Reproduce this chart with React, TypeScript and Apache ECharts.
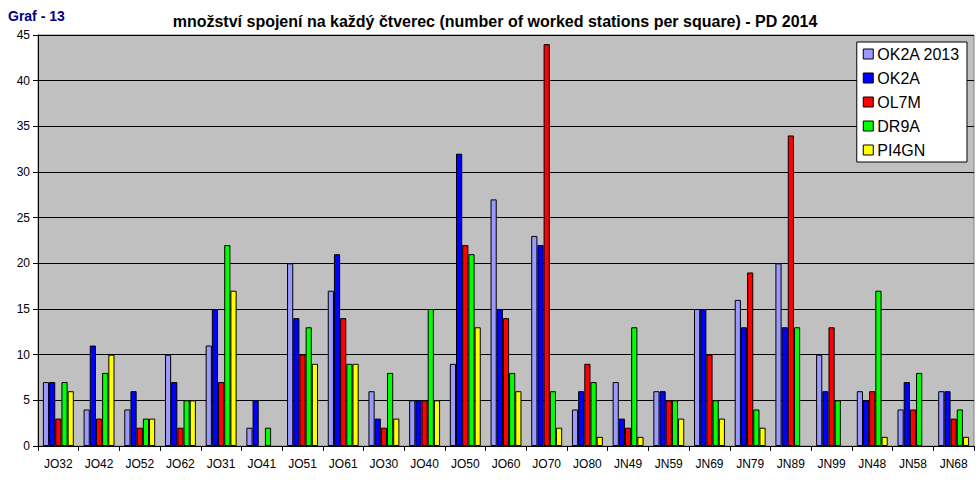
import React, { useEffect, useRef } from "react";
import * as echarts from "echarts";

const categories = ["JO32", "JO42", "JO52", "JO62", "JO31", "JO41", "JO51", "JO61", "JO30", "JO40", "JO50", "JO60", "JO70", "JO80", "JN49", "JN59", "JN69", "JN79", "JN89", "JN99", "JN48", "JN58", "JN68"];
const ok2a2013 = [7, 4, 4, 10, 11, 2, 20, 17, 6, 5, 9, 27, 23, 4, 7, 6, 15, 16, 20, 10, 6, 4, 6];
const ok2a = [7, 11, 6, 7, 15, 5, 14, 21, 3, 5, 32, 15, 22, 6, 3, 6, 15, 13, 13, 6, 5, 7, 6];
const ol7m = [3, 3, 2, 2, 7, 0, 10, 14, 2, 5, 22, 14, 44, 9, 2, 5, 10, 19, 34, 13, 6, 4, 3];
const dr9a = [7, 8, 3, 5, 22, 2, 13, 9, 8, 15, 21, 8, 6, 7, 13, 5, 5, 4, 13, 5, 17, 8, 4];
const pi4gn = [6, 10, 3, 5, 17, 0, 9, 9, 3, 5, 13, 6, 2, 1, 1, 3, 3, 2, 0, 0, 1, 0, 1];

const seriesNames = ["OK2A 2013", "OK2A", "OL7M", "DR9A", "PI4GN"];
const seriesColors = ["#9999FF", "#0000FF", "#FF0000", "#00FF00", "#FFFF00"];
const seriesData = [ok2a2013, ok2a, ol7m, dr9a, pi4gn];

export default function App() {
  const ref = useRef<HTMLDivElement>(null);
  useEffect(() => {
    if (!ref.current) return;
    const chart = echarts.init(ref.current, null, { renderer: "svg" });
    const font = "Arial, 'Liberation Sans', sans-serif";
    chart.setOption({
      animation: false,
      backgroundColor: "#FFFFFF",
      textStyle: { fontFamily: font },
      title: [
        {
          text: "množství spojení na každý čtverec (number of worked stations per square) - PD 2014",
          left: 490,
          top: 8,
          textAlign: "center",
          textStyle: { fontSize: 16, fontWeight: "bold", color: "#000", fontFamily: font },
        },
        {
          text: "Graf - 13",
          left: 3,
          top: 4,
          textStyle: { fontSize: 14, fontWeight: "bold", color: "#000080", fontFamily: font },
        },
      ],
      legend: {
        orient: "vertical",
        right: 12,
        top: 42,
        backgroundColor: "#FFFFFF",
        borderColor: "#000",
        borderWidth: 1,
        padding: [4, 7, 4, 6],
        itemGap: 8,
        itemWidth: 10,
        itemHeight: 10,
        icon: "rect",
        borderRadius: 0,
        textStyle: { fontSize: 16, color: "#000", fontFamily: font, padding: [0, 0, 0, -1] },
        data: seriesNames.map((n, i) => ({
          name: n,
          itemStyle: { color: seriesColors[i], borderColor: "#000", borderWidth: 1 },
        })),
      },
      grid: {
        left: 38,
        top: 35,
        right: 5,
        bottom: 54,
        show: true,
        backgroundColor: "#C0C0C0",
        borderColor: "#808080",
        borderWidth: 1,
      },
      xAxis: {
        type: "category",
        data: categories,
        axisLine: { lineStyle: { color: "#000" } },
        axisTick: { show: true, length: 5, lineStyle: { color: "#000" } },
        axisLabel: { fontSize: 12, color: "#000", margin: 12, interval: 0, fontFamily: font },
        splitLine: { show: false },
      },
      yAxis: {
        type: "value",
        min: 0,
        max: 45,
        interval: 5,
        axisLine: { show: true, lineStyle: { color: "#000" } },
        axisTick: { show: true, length: 5, lineStyle: { color: "#000" } },
        axisLabel: { fontSize: 12, color: "#000", margin: 8, fontFamily: font },
        splitLine: { show: true, lineStyle: { color: "#000", width: 1 } },
      },
      series: seriesNames.map((n, i) => ({
        name: n,
        type: "bar",
        data: seriesData[i].map((v) => (v === 0 ? null : v)),
        barGap: "0%",
        barCategoryGap: "24%",
        itemStyle: { color: seriesColors[i], borderColor: "#000", borderWidth: 1 },
      })),
    });
    return () => chart.dispose();
  }, []);
  return (
    <div
      ref={ref}
      style={{ position: "fixed", left: 0, top: 0, width: 979, height: 500 }}
    />
  );
}
